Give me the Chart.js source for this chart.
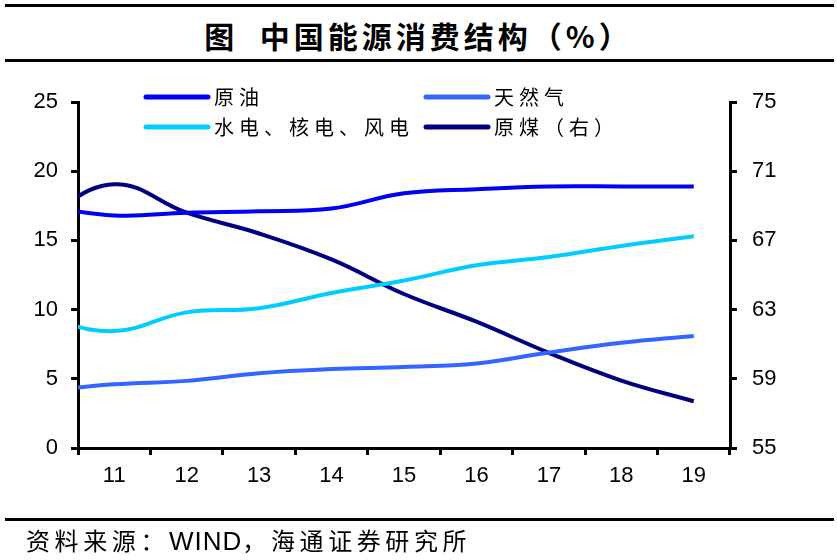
<!DOCTYPE html>
<html>
<head>
<meta charset="utf-8">
<script src="https://cdn.jsdelivr.net/npm/chart.js@4.4.0/dist/chart.umd.min.js"></script>
<style>
  html, body { margin: 0; padding: 0; background: #fff; }
  #wrap { position: relative; width: 837px; height: 560px; overflow: hidden; }
  #chart { position: absolute; left: 0; top: 0; }
  .rule { position: absolute; left: 5px; width: 829px; height: 3px; background: #000; }
  #title { position: absolute; left: 0; width: 837px; top: 14px; text-align: center;
    font: bold 30px "Noto Sans CJK SC"; letter-spacing: 4px; white-space: pre; line-height: 42px; }
  #source { position: absolute; left: 26px; top: 524px; font: 24px "Noto Sans CJK SC";
    letter-spacing: 4.6px; line-height: 32px; white-space: pre; }
  #source span { font-family: "Liberation Sans"; font-size: 26px; letter-spacing: 1px; }
</style>
</head>
<body>
<div id="wrap">
  <div class="rule" style="top:4px"></div>
  <div id="title">图  中国能源消费结构（%）</div>
  <div class="rule" style="top:59px"></div>
  <canvas id="chart" width="837" height="560"></canvas>
  <div class="rule" style="top:518px"></div>
  <div id="source">资料来源：<span>WIND</span>，海通证券研究所</div>
</div>
<script>
// years (20xx); the 2010 point sits outside the axis and is clipped
const years = [10, 11, 12, 13, 14, 15, 16, 17, 18, 19]
const xLabels = ['11', '12', '13', '14', '15', '16', '17', '18', '19']

const crudeOil = [17.5, 16.8, 17.0, 17.1, 17.3, 18.4, 18.7, 18.9, 18.9, 18.9]
const naturalGas = [4.1, 4.6, 4.85, 5.4, 5.7, 5.85, 6.1, 6.9, 7.6, 8.1]
const cleanPower = [9.4, 8.45, 9.8, 10.1, 11.2, 12.1, 13.2, 13.8, 14.6, 15.3]
const coal = [68.3, 70.25, 68.6, 67.4, 65.9, 63.9, 62.3, 60.5, 58.9, 57.7]

const seriesNames = ['原油', '天然气', '水电、核电、风电', '原煤（右）']
const seriesColors = ['#0000F5', '#3366FF', '#00CCFF', '#000080']

const tickFont = { family: 'Liberation Sans', size: 22 }
const cjkFont = '"Noto Sans CJK SC"'

function points (values) {
  return years.map((x, i) => ({ x, y: values[i] }))
}

function makeSet (idx, values, axis) {
  return {
    label: seriesNames[idx],
    data: points(values),
    yAxisID: axis,
    xAxisID: 'x',
    borderColor: seriesColors[idx],
    backgroundColor: seriesColors[idx],
    borderWidth: 4,
    pointRadius: 0,
    tension: 0.4,
    fill: false,
    clip: 0
  }
}

// legend drawn as two rows of two, sitting across the top of the plot
const legendPlugin = {
  id: 'boxLegend',
  afterDraw (chart) {
    const ctx = chart.ctx
    const cols = [146, 426]
    const rows = [97, 127]
    ctx.save()
    ctx.font = '20px ' + cjkFont
    ctx.textBaseline = 'middle'
    ctx.fillStyle = '#000'
    if ('letterSpacing' in ctx) ctx.letterSpacing = '5px'
    chart.data.datasets.forEach((ds, i) => {
      const x = cols[i % 2]
      const y = rows[Math.floor(i / 2)]
      ctx.strokeStyle = ds.borderColor
      ctx.lineWidth = 5
      ctx.lineCap = 'round'
      ctx.beginPath()
      ctx.moveTo(x, y)
      ctx.lineTo(x + 62, y)
      ctx.stroke()
      ctx.fillText(ds.label, x + 68, y)
    })
    ctx.restore()
  }
}

const axisGrid = { drawOnChartArea: false, color: '#000', lineWidth: 3, tickLength: 7 }
const axisBorder = { color: '#000', width: 3 }

new Chart(document.getElementById('chart'), {
  type: 'line',
  data: {
    datasets: [
      makeSet(0, crudeOil, 'y'),
      makeSet(1, naturalGas, 'y'),
      makeSet(2, cleanPower, 'y'),
      makeSet(3, coal, 'y1')
    ]
  },
  options: {
    responsive: false,
    animation: false,
    layout: { padding: { top: 102, left: 0, right: 0, bottom: 0 } },
    plugins: { legend: { display: false }, tooltip: { enabled: false } },
    scales: {
      x: { type: 'linear', min: 10.5, max: 19.5, display: false },
      xc: {
        type: 'category',
        labels: xLabels,
        position: 'bottom',
        offset: true,
        grid: { ...axisGrid, offset: true },
        border: axisBorder,
        ticks: { color: '#000', font: tickFont, padding: 8, maxRotation: 0, autoSkip: false },
        afterFit (scale) { scale.height = 112 }
      },
      y: {
        position: 'left',
        min: 0,
        max: 25,
        grid: axisGrid,
        border: axisBorder,
        ticks: { stepSize: 5, color: '#000', font: tickFont, padding: 13 },
        afterFit (scale) { scale.width = 78 }
      },
      y1: {
        position: 'right',
        min: 55,
        max: 75,
        grid: axisGrid,
        border: axisBorder,
        ticks: { stepSize: 4, color: '#000', font: tickFont, padding: 15 },
        afterFit (scale) { scale.width = 107 }
      }
    }
  },
  plugins: [legendPlugin]
})
</script>
</body>
</html>
